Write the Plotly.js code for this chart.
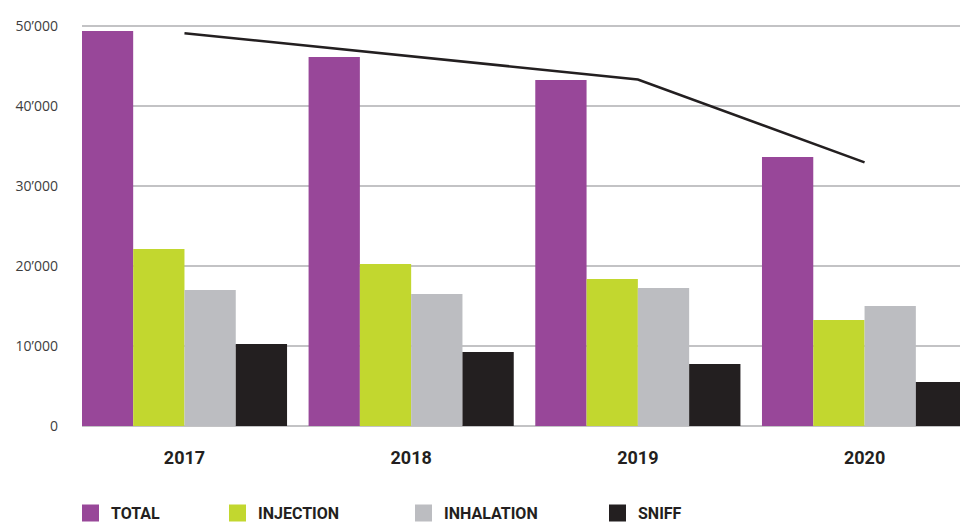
<!DOCTYPE html>
<html>
<head>
<meta charset="utf-8">
<script src="https://cdn.plot.ly/plotly-3.0.1.min.js"></script>
<style>html,body{margin:0;padding:0;background:#fff;}#chart{width:960px;height:523px;}</style>
</head>
<body>
<div id="chart"></div>
<script>
// ---- data ----
const years = ["2017", "2018", "2019", "2020"];
const seriesNames = ["TOTAL", "INJECTION", "INHALATION", "SNIFF"];
const total      = [49375, 46125, 43250, 33625];
const injection  = [22125, 20250, 18375, 13250];
const inhalation = [17000, 16500, 17250, 15000];
const sniff      = [10250,  9250,  7750,  5500];
const trendLine  = [49100, 46200, 43320, 32950];
const yTickVals  = [0, 10000, 20000, 30000, 40000, 50000];
const yTickText  = ["0", "10’000", "20’000", "30’000", "40’000", "50’000"];

// ---- styles ----
const colors = ["#984799", "#c2d72f", "#bcbdc1", "#231f20"];
const condFont = "Roboto, 'Liberation Sans Narrow', sans-serif";
const allSeries = [total, injection, inhalation, sniff];

const traces = allSeries.map((vals, i) => ({
  type: "bar",
  x: years,
  y: vals,
  name: seriesNames[i],
  marker: {color: colors[i], line: {width: 0}},
  hoverinfo: "skip"
}));
traces.push({
  type: "scatter",
  mode: "lines",
  x: years,
  y: trendLine,
  line: {color: "#231f20", width: 2.6},
  showlegend: false,
  hoverinfo: "skip"
});

// custom legend (layout positions in pixels)
const plotLeft = 82, plotWidth = 878, plotBottom = 426, plotHeight = 404;
const legendPx = [82, 229, 415, 609];
const legendYpx = 513;
const legY = (plotBottom - legendYpx) / plotHeight;
const shapes = [], annotations = [];
seriesNames.forEach((n, i) => {
  const ax = (legendPx[i] - plotLeft) / plotWidth;
  shapes.push({
    type: "rect", xref: "paper", yref: "paper",
    xsizemode: "pixel", ysizemode: "pixel",
    xanchor: ax, yanchor: legY,
    x0: 0, x1: 17, y0: -8.5, y1: 8.5,
    fillcolor: colors[i], line: {width: 0}
  });
  annotations.push({
    xref: "paper", yref: "paper",
    x: (legendPx[i] + 27 - plotLeft) / plotWidth, y: legY,
    xanchor: "left", yanchor: "middle", showarrow: false,
    text: "<b>" + n + "</b>",
    font: {family: condFont, size: 16, color: "#231f20"}
  });
});

const layout = {
  width: 960, height: 523,
  margin: {l: 82, r: 0, t: 22, b: 97, pad: 0},
  paper_bgcolor: "#fff", plot_bgcolor: "#fff",
  barmode: "group",
  bargap: 0.095,
  bargroupgap: 0,
  showlegend: false,
  xaxis: {
    type: "category",
    range: [-0.452, 3.421],
    showgrid: false, zeroline: false, showline: false,
    ticks: "",
    ticklabelstandoff: 19,
    tickfont: {family: condFont, size: 18, color: "#231f20", weight: "bold"},
    fixedrange: true
  },
  yaxis: {
    range: [0, 50500],
    tickvals: yTickVals,
    ticktext: yTickText,
    showgrid: true, gridcolor: "#c3c3c5", gridwidth: 1.6,
    zeroline: true, zerolinecolor: "#c3c3c5", zerolinewidth: 1.6,
    showline: false, ticks: "",
    ticklabelstandoff: 23,
    tickfont: {family: "'Open Sans', sans-serif", size: 14, color: "#3d3d3d"},
    fixedrange: true
  },
  shapes: shapes,
  annotations: annotations
};

Plotly.newPlot("chart", traces, layout, {displayModeBar: false, staticPlot: true});
</script>
</body>
</html>
